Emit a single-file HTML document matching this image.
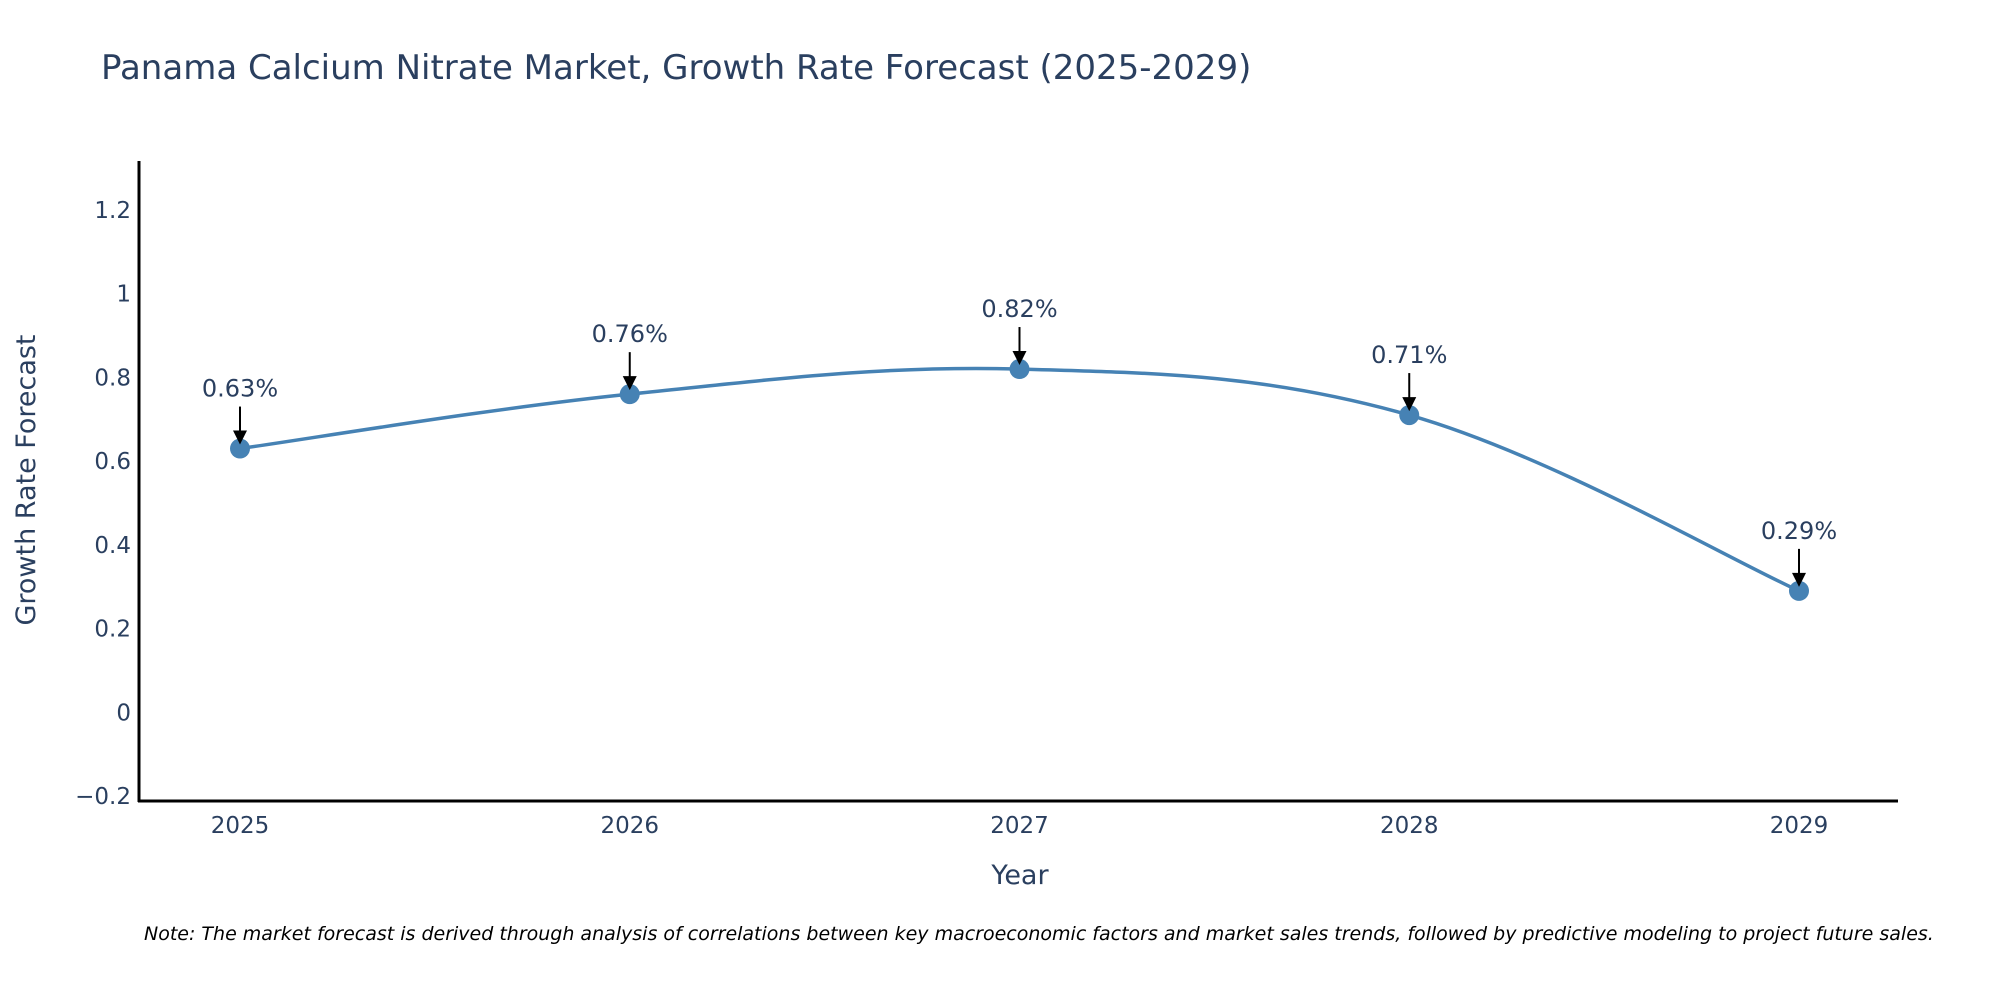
<!DOCTYPE html>
<html><head><meta charset="utf-8">
<style>
body{margin:0;background:#fff;}
svg{display:block;font-family:"DejaVu Sans","Liberation Sans",sans-serif;}
</style></head>
<body>
<svg id="chart" width="2000" height="1000" viewBox="0 0 2000 1000" xmlns="http://www.w3.org/2000/svg">
  <rect width="2000" height="1000" fill="#fff"/>
  <text x="101" y="79" font-size="34" fill="#2a3f5f">Panama Calcium Nitrate Market, Growth Rate Forecast (2025-2029)</text>
  <g id="yticks"></g>
  <g id="xticks"></g>
  <line x1="139" y1="161" x2="139" y2="802" stroke="#000" stroke-width="3"/>
  <line x1="138" y1="801" x2="1898" y2="801" stroke="#000" stroke-width="3"/>
  <text transform="translate(35,480) rotate(-90)" text-anchor="middle" font-size="27" fill="#2a3f5f">Growth Rate Forecast</text>
  <text x="1020" y="884" text-anchor="middle" font-size="27" fill="#2a3f5f">Year</text>
  <path id="line" fill="none" stroke="#4682b4" stroke-width="3.5"/>
  <g id="marks"></g>
  <text x="144" y="940" font-size="19" font-style="italic" fill="#000">Note: The market forecast is derived through analysis of correlations between key macroeconomic factors and market sales trends, followed by predictive modeling to project future sales.</text>
</svg>
<script>
const years = [2025, 2026, 2027, 2028, 2029];
const rates = [0.63, 0.76, 0.82, 0.71, 0.29];
const yTickValues = [-0.2, 0, 0.2, 0.4, 0.6, 0.8, 1, 1.2];
const yTickLabels = ["\u22120.2", "0", "0.2", "0.4", "0.6", "0.8", "1", "1.2"];
const valueLabels = ["0.63%", "0.76%", "0.82%", "0.71%", "0.29%"];

const NS = "http://www.w3.org/2000/svg";
const yMin = -0.212, yMax = 1.317, pTop = 161, pBot = 801;
const xFirst = 240, xLast = 1799;
function yScale(v){ return pBot - (v - yMin) / (yMax - yMin) * (pBot - pTop); }
function xScale(yr){ return xFirst + (yr - years[0]) / (years[years.length-1] - years[0]) * (xLast - xFirst); }
function mk(tag, attrs, parent){ const e = document.createElementNS(NS, tag); for (const k in attrs) e.setAttribute(k, attrs[k]); parent.appendChild(e); return e; }

const yt = document.getElementById('yticks');
yTickValues.forEach((v, i) => {
  const t = mk('text', {x: 131, y: yScale(v) + 8, 'text-anchor': 'end', 'font-size': 23, fill: '#2a3f5f'}, yt);
  
  
  t.textContent = yTickLabels[i];
});
const xt = document.getElementById('xticks');
years.forEach(yr => {
  const t = mk('text', {x: xScale(yr), y: 833, 'text-anchor': 'middle', 'font-size': 23, fill: '#2a3f5f'}, xt);
  
  
  t.textContent = yr;
});

const pts = years.map((yr, i) => [xScale(yr), yScale(rates[i])]);
let d = `M${pts[0][0]},${pts[0][1]}`;
const s = 0.18;
for (let i = 0; i < pts.length - 1; i++) {
  const p0 = pts[Math.max(0, i-1)], p1 = pts[i], p2 = pts[i+1], p3 = pts[Math.min(pts.length-1, i+2)];
  const c1 = [p1[0] + (p2[0]-p0[0])*s, p1[1] + (p2[1]-p0[1])*s];
  const c2 = [p2[0] - (p3[0]-p1[0])*s, p2[1] - (p3[1]-p1[1])*s];
  d += ` C${c1[0]},${c1[1]} ${c2[0]},${c2[1]} ${p2[0]},${p2[1]}`;
}
document.getElementById('line').setAttribute('d', d);

const g = document.getElementById('marks');
pts.forEach((p, i) => {
  const c = mk('circle', {cx: p[0], cy: p[1], r: 10, fill: '#4682b4'}, g);
  
  
  const a = mk('line', {x1: p[0], y1: p[1] - 42, x2: p[0], y2: p[1] - 16, stroke: '#000', 'stroke-width': 2}, g);
  
  
  const h = mk('polygon', {points: `${p[0]-7},${p[1]-18} ${p[0]+7},${p[1]-18} ${p[0]},${p[1]-4}`, fill: '#000'}, g);
  
  
  const t = mk('text', {x: p[0], y: p[1] - 52, 'text-anchor': 'middle', 'font-size': 24, fill: '#2a3f5f'}, g);
  
  
  t.textContent = valueLabels[i];
});
</script>
</body></html>
